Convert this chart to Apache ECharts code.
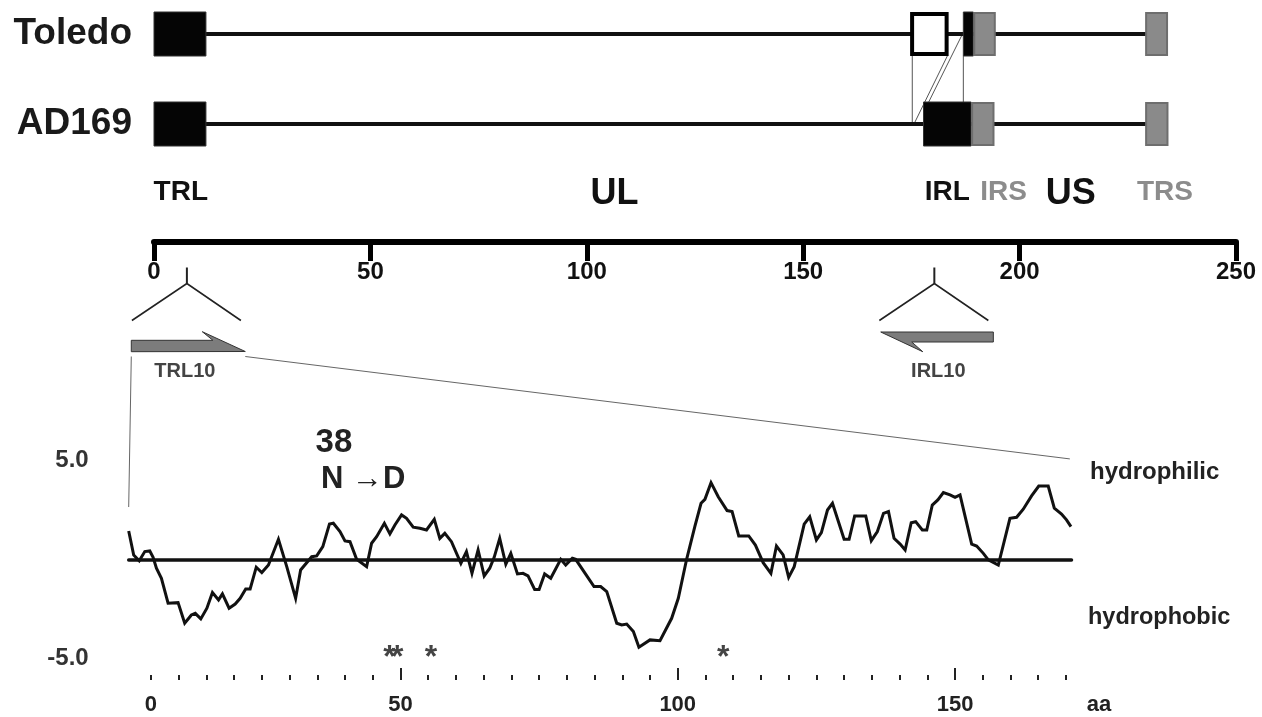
<!DOCTYPE html>
<html><head><meta charset="utf-8">
<script src="https://cdn.jsdelivr.net/npm/echarts@6/dist/echarts.min.js"></script>
<style>html,body{margin:0;padding:0;background:#fff}#c{width:1262px;height:717px}</style>
</head><body><div id="c"></div>
<script>
// ---------- genome map (kb) ----------
const strains = ['AD169', 'Toledo'];
const backboneRow = [1, 0];
const backboneStart = [0, 0];
const backboneEnd = [229.5, 229.5];
const boxRow = [1, 1, 1, 1, 1, 0, 0, 0, 0];
const boxStart = [0, 174.7, 187.0, 189.3, 229.0, 0, 177.8, 188.8, 229.0];
const boxEnd = [12.0, 183.6, 189.3, 194.5, 234.3, 12.0, 188.8, 194.2, 234.4];
const boxKind = ['L', 'open', 'L', 'S', 'S', 'L', 'L', 'S', 'S'];
const linkFrom = [175.2, 183.3, 186.8, 187.0];
const linkTo = [175.2, 175.6, 179.0, 187.0];
const linkFromEdge = ['bottom', 'bottom', 'center', 'bottom'];
const linkToEdge = ['center', 'center', 'top', 'top'];
const regionNames = ['TRL', 'UL', 'IRL', 'IRS', 'US', 'TRS'];
const regionKb = [6.2, 106.4, 183.3, 196.3, 211.8, 233.6];
const scaleTicks = [0, 50, 100, 150, 200, 250];
const geneNames = ['TRL10', 'IRL10'];
const geneKb = [7.6, 180.3];
const geneStrand = [1, -1];

// ---------- hydrophilicity profile ----------
const profileAA = [1.0,1.9,2.9,3.9,4.8,5.4,6.0,6.9,8.1,9.9,11.1,12.3,13.0,14.0,15.1,16.1,17.2,17.9,19.1,20.2,21.1,22.1,22.9,24.0,25.0,26.2,28.0,29.5,31.1,32.0,34.0,34.9,36.0,37.2,37.9,39.1,40.0,40.9,42.1,
43.9,44.8,45.7,47.1,48.1,49.0,50.2,51.1,52.3,53.5,54.7,56.1,57.1,58.0,59.2,60.9,61.9,62.9,64.0,65.1,66.1,66.9,67.9,69.0,69.9,71.1,72.1,73.0,74.2,75.0,76.0,77.1,78.9,79.8,81.0,81.6,83.3,84.9,
86.1,87.2,89.0,89.9,90.8,92.0,93.0,95.0,96.8,98.9,100.1,101.6,103.1,104.2,104.9,106.0,107.3,108.9,109.8,111.0,112.8,114.0,115.4,116.8,117.8,119.0,120.0,121.0,122.8,123.8,125.0,125.9,127.0,127.9,
130.0,130.9,131.9,133.9,134.9,136.0,137.1,138.0,139.0,140.1,141.0,142.1,142.9,144.1,144.9,145.9,146.9,147.9,149.1,150.0,150.9,153.0,153.9,155.1,156.0,157.8,159.9,161.1,162.3,163.8,165.1,166.8,167.9,169.2,170.1,170.9];
const profileVal = [1.43,0.22,-0.07,0.39,0.42,0.10,-0.45,-0.96,-2.22,-2.19,-3.23,-2.81,-2.73,-3.01,-2.47,-1.68,-2.05,-1.75,-2.47,-2.26,-1.97,-1.50,-1.50,-0.40,-0.67,-0.29,1.01,-0.37,-1.97,-0.54,0.13,0.17,0.64,1.78,1.82,1.40,0.93,0.89,0.00,
-0.37,0.81,1.14,1.82,1.28,1.73,2.24,2.07,1.62,1.57,1.48,2.02,1.06,1.31,0.89,-0.20,0.39,-0.71,0.47,-0.84,-0.45,0.10,1.06,-0.25,0.30,-0.74,-0.71,-0.84,-1.52,-1.52,-0.74,-0.96,0.00,-0.29,0.05,0.00,-0.71,-1.38,
-1.38,-1.63,-3.23,-3.32,-3.27,-3.65,-4.44,-4.07,-4.11,-2.98,-1.97,0.00,1.68,2.83,3.03,3.87,3.16,2.46,2.41,1.18,1.18,0.72,-0.17,-0.71,0.67,0.22,-0.91,-0.37,1.78,2.15,0.98,1.35,2.49,2.83,
1.01,1.01,2.19,2.19,0.94,1.40,2.32,2.41,1.06,0.77,0.47,1.85,1.90,1.48,1.48,2.74,3.00,3.37,3.25,3.13,3.25,0.77,0.67,0.30,-0.03,-0.29,2.07,2.12,2.53,3.20,3.70,3.70,2.58,2.29,1.99,1.65];
const siteAA = [48, 49.4, 55.5, 108.2];
const siteLevel = -4.6;
const mutationAA = 38;
const mutationText = ['38', 'N \u2192D'];
const aaTickValues = [5,10,15,20,25,30,35,40,45,50,55,60,65,70,75,80,85,90,95,100,105,110,115,120,125,130,135,140,145,150,155,160,165,170];
const aaMajorTicks = [50, 100, 150];
const aaLabelValues = [5, 50, 100, 150];
const aaLabels = ['0', '50', '100', '150'];
const yLabelValues = [-5, 5];
const sideLabels = ['hydrophilic', 'hydrophobic'];

// ---------- styling ----------
const FF = '"Liberation Sans", Arial, Helvetica, sans-serif';
const font = (s) => 'bold ' + s + 'px ' + FF;
const BOX_HALF = 22;

const chart = echarts.init(document.getElementById('c'), null, {renderer: 'canvas'});

function renderBackbone(params, api) {
  const s = api.coord([api.value(0), api.value(2)]);
  const e = api.coord([api.value(1), api.value(2)]);
  return {type: 'line', shape: {x1: s[0], y1: s[1], x2: e[0], y2: e[1]}, style: {stroke: '#111', lineWidth: 4}};
}
function renderBox(params, api) {
  const k = boxKind[params.dataIndex];
  const s = api.coord([api.value(0), api.value(2)]);
  const e = api.coord([api.value(1), api.value(2)]);
  const w = e[0] - s[0];
  if (k === 'open') {
    return {type: 'rect', shape: {x: s[0] + 2, y: s[1] - BOX_HALF + 2, width: w - 4, height: 2 * BOX_HALF - 4},
      style: {fill: '#fff', stroke: '#000', lineWidth: 4}};
  }
  if (k === 'S') {
    return {type: 'rect', shape: {x: s[0] + 1, y: s[1] - BOX_HALF + 1, width: w - 2, height: 2 * BOX_HALF - 2},
      style: {fill: '#8a8a8a', stroke: '#6e6e6e', lineWidth: 2}};
  }
  return {type: 'rect', shape: {x: s[0], y: s[1] - BOX_HALF, width: w, height: 2 * BOX_HALF},
    style: {fill: '#050505', stroke: '#333', lineWidth: 1}};
}
function edgeOffset(edge) { return edge === 'bottom' ? BOX_HALF : edge === 'top' ? -BOX_HALF : 0; }
function renderLink(params, api) {
  const i = params.dataIndex;
  const a = api.coord([api.value(0), 1]);
  const b = api.coord([api.value(1), 0]);
  return {type: 'line', shape: {x1: a[0], y1: a[1] + edgeOffset(linkFromEdge[i]), x2: b[0], y2: b[1] + edgeOffset(linkToEdge[i])},
    style: {stroke: '#555', lineWidth: 1}};
}
function renderRegion(params, api) {
  const name = regionNames[params.dataIndex];
  const p = api.coord([api.value(0), 0]);
  const big = (name === 'UL' || name === 'US');
  const gray = (name === 'IRS' || name === 'TRS');
  return {type: 'text', x: p[0], y: p[1] - (big ? 48 : 50),
    style: {text: name, font: font(big ? 36 : 28), fill: gray ? '#8c8c8c' : '#111', align: 'center', verticalAlign: 'middle'}};
}
function renderGene(params, api) {
  const i = params.dataIndex;
  const p = api.coord([api.value(0), 0]);
  const x = p[0], ay = p[1];
  const ch = [];
  ch.push({type: 'line', shape: {x1: x, y1: ay + 25.5, x2: x, y2: ay + 41.5}, style: {stroke: '#222', lineWidth: 2}});
  ch.push({type: 'polyline', shape: {points: [[x - 55, ay + 78.5], [x, ay + 41.5], [x + 54, ay + 78.5]]}, style: {stroke: '#222', lineWidth: 1.6, fill: null}});
  let pts;
  if (geneStrand[i] > 0) {
    pts = [[x - 55.6, ay + 109.7], [x - 55.6, ay + 98.3], [x + 26, ay + 98.3], [x + 15.4, ay + 89.7], [x + 58.4, ay + 109.5]];
  } else {
    pts = [[x - 53.6, ay + 90], [x + 59, ay + 90], [x + 59, ay + 100], [x - 22.6, ay + 100], [x - 11.6, ay + 109.7]];
  }
  ch.push({type: 'polygon', shape: {points: pts}, style: {fill: '#7c7c7c', stroke: '#333', lineWidth: 1}});
  ch.push({type: 'text', x: x + (geneStrand[i] > 0 ? -2 : 4), y: ay + 129,
    style: {text: geneNames[i], font: font(20), fill: '#444', align: 'center', verticalAlign: 'middle'}});
  return {type: 'group', children: ch};
}
function renderSite(params, api) {
  const p = api.coord([api.value(0), api.value(1)]);
  return {type: 'text', x: p[0], y: p[1] + 8, style: {text: '*', font: font(32), fill: '#444', align: 'center', verticalAlign: 'middle'}};
}

const option = {
  animation: false,
  backgroundColor: '#fff',
  grid: [
    {left: 154, right: 26, top: 34, height: 90, outerBoundsMode: 'none'},
    {left: 154, right: 26, top: 150, height: 92, outerBoundsMode: 'none'},
    {left: 128.7, right: 190.5, top: 460.3, height: 198, outerBoundsMode: 'none'},
    {left: 128.7, right: 190.5, top: 600, bottom: 37, outerBoundsMode: 'none'}
  ],
  xAxis: [
    {gridIndex: 0, type: 'value', min: 0, max: 250, show: false},
    {gridIndex: 1, type: 'value', min: 0, max: 250, interval: 50,
      axisLine: {show: true, lineStyle: {color: '#000', width: 6}},
      axisTick: {show: true, length: 19, customValues: scaleTicks, lineStyle: {color: '#000', width: 5}},
      axisLabel: {show: true, customValues: scaleTicks, margin: 18, color: '#111', fontSize: 24, fontWeight: 'bold', fontFamily: FF},
      splitLine: {show: false}},
    {gridIndex: 2, type: 'value', min: 1, max: 171,
      axisLine: {show: true, onZero: true, lineStyle: {color: '#111', width: 3.5}},
      axisTick: {show: false}, axisLabel: {show: false}, splitLine: {show: false}},
    {gridIndex: 3, type: 'value', min: 1, max: 171, position: 'bottom', offset: 0,
      axisLine: {show: false},
      axisTick: {show: true, inside: true, length: 5, customValues: aaTickValues, lineStyle: {color: '#222', width: 2}},
      axisLabel: {show: true, customValues: aaLabelValues, margin: 14, color: '#222', fontSize: 22, fontWeight: 'bold', fontFamily: FF,
        formatter: (v) => aaLabels[aaLabelValues.indexOf(v)]},
      splitLine: {show: false}},
    {gridIndex: 3, type: 'value', min: 1, max: 171, position: 'bottom', offset: 0,
      axisLine: {show: false},
      axisTick: {show: true, inside: true, length: 12, customValues: aaMajorTicks, lineStyle: {color: '#222', width: 2}},
      axisLabel: {show: false}, splitLine: {show: false}}
  ],
  yAxis: [
    {gridIndex: 0, type: 'category', data: strains, boundaryGap: false,
      axisLine: {show: false}, axisTick: {show: false}, splitLine: {show: false},
      axisLabel: {show: true, margin: 22, color: '#1a1a1a', fontSize: 37, fontWeight: 'bold', fontFamily: FF}},
    {gridIndex: 1, type: 'value', min: 0, max: 1, show: false},
    {gridIndex: 2, type: 'value', min: -5, max: 5,
      axisLine: {show: false}, axisTick: {show: false}, splitLine: {show: false},
      axisLabel: {show: true, customValues: yLabelValues, margin: 40, color: '#333', fontSize: 24, fontWeight: 'bold', fontFamily: FF,
        formatter: (v) => v.toFixed(1)}},
    {gridIndex: 3, type: 'value', min: 0, max: 1, show: false}
  ],
  series: [
    {type: 'custom', name: 'links', xAxisIndex: 0, yAxisIndex: 0, z: 1, renderItem: renderLink,
      data: linkFrom.map((f, i) => [f, linkTo[i]]), encode: {x: [0, 1]}},
    {type: 'custom', name: 'backbone', xAxisIndex: 0, yAxisIndex: 0, z: 2, renderItem: renderBackbone,
      data: backboneRow.map((r, i) => [backboneStart[i], backboneEnd[i], r]), encode: {x: [0, 1], y: 2}},
    {type: 'custom', name: 'segments', xAxisIndex: 0, yAxisIndex: 0, z: 3, renderItem: renderBox,
      data: boxRow.map((r, i) => [boxStart[i], boxEnd[i], r]), encode: {x: [0, 1], y: 2}},
    {type: 'custom', name: 'regions', xAxisIndex: 1, yAxisIndex: 1, renderItem: renderRegion,
      data: regionKb.map((k) => [k, 0]), encode: {x: 0, y: 1}},
    {type: 'custom', name: 'genes', xAxisIndex: 1, yAxisIndex: 1, renderItem: renderGene,
      data: geneKb.map((k) => [k, 0]), encode: {x: 0, y: 1}},
    {type: 'line', name: 'profile', xAxisIndex: 2, yAxisIndex: 2, z: 5, symbol: 'none',
      lineStyle: {color: '#111', width: 3, join: 'miter'},
      data: profileAA.map((a, i) => [a, profileVal[i]])},
    {type: 'custom', name: 'sites', xAxisIndex: 2, yAxisIndex: 2, renderItem: renderSite,
      data: siteAA.map((a) => [a, siteLevel]), encode: {x: 0, y: 1}}
  ]
};
chart.setOption(option);

// decorations positioned from the chart's own scales
const gx = chart.convertToPixel({xAxisIndex: 1}, geneKb[0]);
const pStart = chart.convertToPixel({gridIndex: 2}, [profileAA[0], 2.64]);
const pEnd = chart.convertToPixel({gridIndex: 2}, [170.7, 5.07]);
const pMut = chart.convertToPixel({gridIndex: 2}, [mutationAA, 0]);
chart.setOption({
  graphic: [
    {type: 'line', shape: {x1: gx - 55.6, y1: 356.5, x2: pStart[0], y2: pStart[1]}, style: {stroke: '#666', lineWidth: 1}},
    {type: 'line', shape: {x1: gx + 58.4, y1: 356.5, x2: pEnd[0], y2: pEnd[1]}, style: {stroke: '#666', lineWidth: 1}},
    {type: 'text', x: pMut[0], y: 443, style: {text: mutationText[0], font: font(33), fill: '#222', align: 'center', verticalAlign: 'middle'}},
    {type: 'text', x: pMut[0] - 13, y: 479, style: {text: mutationText[1], font: font(31), fill: '#222', align: 'left', verticalAlign: 'middle'}},
    {type: 'text', x: 1090, y: 472, style: {text: sideLabels[0], font: font(24), fill: '#222', align: 'left', verticalAlign: 'middle'}},
    {type: 'text', x: 1088, y: 618, style: {text: sideLabels[1], font: font(23.5), fill: '#222', align: 'left', verticalAlign: 'middle'}},
    {type: 'text', x: 1099, y: 705, style: {text: 'aa', font: font(22), fill: '#222', align: 'center', verticalAlign: 'middle'}}
  ]
});
</script></body></html>
